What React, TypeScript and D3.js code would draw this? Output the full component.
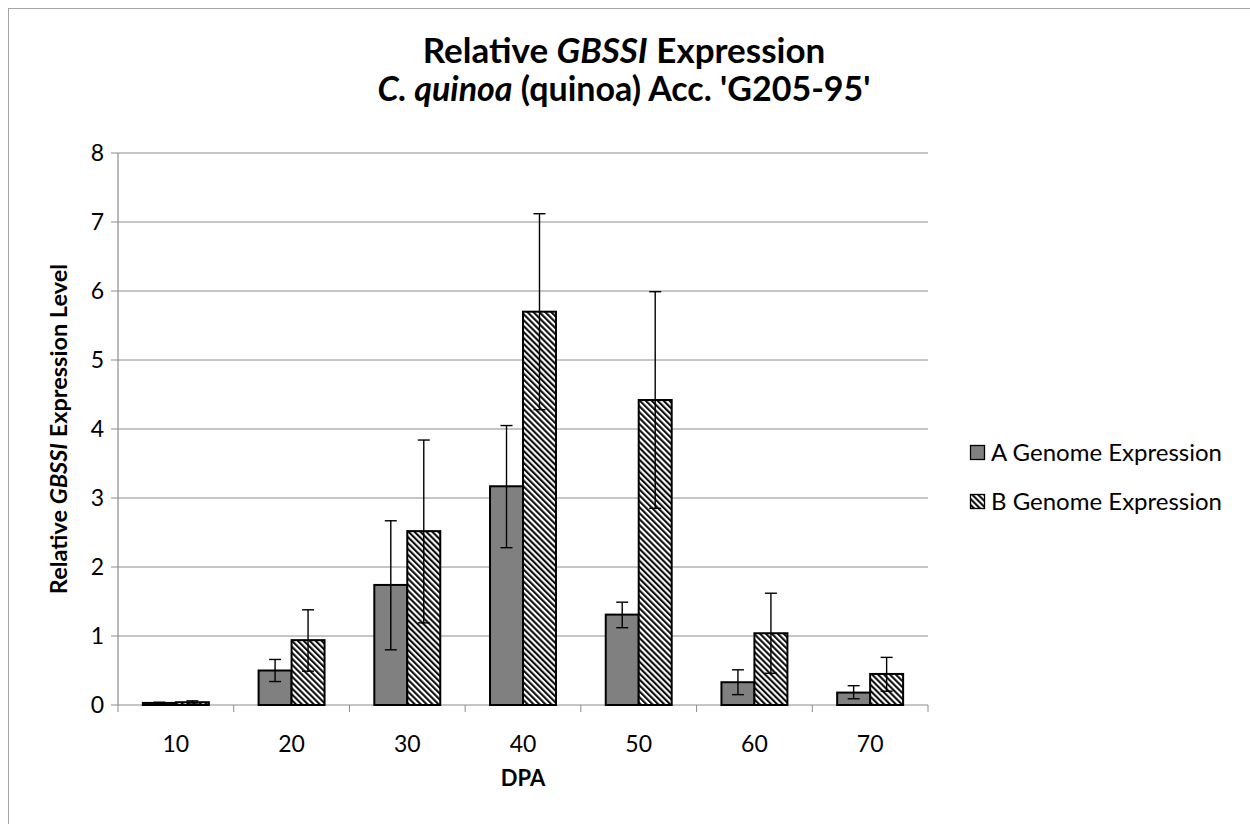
import React from "react";
import * as d3 from "d3";

const categories = ["10", "20", "30", "40", "50", "60", "70"];
const seriesNames = ["A Genome Expression", "B Genome Expression"];
const aValues = [0.03, 0.5, 1.74, 3.17, 1.31, 0.33, 0.18];
const aErrLow = [0.02, 0.34, 0.8, 2.28, 1.12, 0.15, 0.09];
const aErrHigh = [0.04, 0.66, 2.67, 4.05, 1.49, 0.51, 0.28];
const bValues = [0.04, 0.94, 2.52, 5.7, 4.42, 1.04, 0.45];
const bErrLow = [0.03, 0.49, 1.19, 4.28, 2.85, 0.46, 0.2];
const bErrHigh = [0.06, 1.38, 3.84, 7.12, 5.99, 1.62, 0.69];
const yTicks = [0, 1, 2, 3, 4, 5, 6, 7, 8];

const FONT = "Lato, 'Open Sans', sans-serif";

export default function App() {
  const left = 118, right = 928, top = 153, bottom = 705;
  const x = d3.scaleBand<string>().domain(categories).range([left, right]).paddingInner(0.43).paddingOuter(0.215);
  const xs = d3.scaleBand<string>().domain(["A", "B"]).range([0, x.bandwidth()]);
  const y = d3.scaleLinear().domain([0, 8]).range([bottom, top]);
  const step = x.step();
  const series = [
    { key: "A", vals: aValues, lo: aErrLow, hi: aErrHigh, fill: "#808080" },
    { key: "B", vals: bValues, lo: bErrLow, hi: bErrHigh, fill: "url(#hatch)" },
  ];
  const gridColor = "#8c8c8c";
  return (
    <>
      <style>{"html,body{margin:0;overflow:hidden}"}</style>
      <svg width={1250} height={824} style={{ position: "absolute", left: 0, top: 0, background: "#fff" }}>
        <defs>
          <pattern id="hatch" patternUnits="userSpaceOnUse" width="4.2" height="4.2" patternTransform="rotate(-45)">
            <rect width="4.2" height="4.2" fill="#fff" />
            <line x1="1.1" y1="-1" x2="1.1" y2="5.2" stroke="#000" strokeWidth="2" />
          </pattern>
        </defs>
        <rect x={8.5} y={8.5} width={1260} height={830} fill="none" stroke="#a6a6a6" strokeWidth={1} />
        <text x={624} y={63} textAnchor="middle" fontFamily={FONT} fontWeight="bold" fontSize={35}>
          Relative <tspan fontStyle="italic">GBSSI</tspan> Expression
        </text>
        <text x={624} y={101} textAnchor="middle" fontFamily={FONT} fontWeight="bold" fontSize={34}>
          <tspan fontStyle="italic">C. quinoa</tspan> (quinoa) Acc. 'G205-95'
        </text>
        {yTicks.map((t) => (
          <g key={t}>
            {t > 0 && <line x1={left} x2={right} y1={y(t)} y2={y(t)} stroke={gridColor} strokeWidth={1} />}
            <line x1={left - 7} x2={left} y1={y(t)} y2={y(t)} stroke={gridColor} strokeWidth={1} />
            <text x={left - 14} y={y(t) + 8} textAnchor="end" fontFamily={FONT} fontSize={23}>{t}</text>
          </g>
        ))}
        <line x1={left} x2={left} y1={top} y2={bottom} stroke={gridColor} strokeWidth={1.2} />
        <line x1={left} x2={right} y1={bottom} y2={bottom} stroke={gridColor} strokeWidth={1.2} />
        {d3.range(categories.length + 1).map((i) => (
          <line key={i} x1={left + i * step} x2={left + i * step} y1={bottom} y2={bottom + 7} stroke={gridColor} strokeWidth={1} />
        ))}
        {categories.map((c) => (
          <text key={c} x={(x(c) as number) + x.bandwidth() / 2} y={752} textAnchor="middle" fontFamily={FONT} fontSize={23}>{c}</text>
        ))}
        {series.map((s) =>
          categories.map((c, i) => {
            const bx = (x(c) as number) + (xs(s.key) as number);
            const w = xs.bandwidth();
            return (
              <rect key={s.key + c} x={bx} y={y(s.vals[i])} width={w} height={y(0) - y(s.vals[i])} fill={s.fill} stroke="#000" strokeWidth={2} />
            );
          })
        )}
        {series.map((s) =>
          categories.map((c, i) => {
            const cx = (x(c) as number) + (xs(s.key) as number) + xs.bandwidth() / 2;
            return (
              <g key={"e" + s.key + c} stroke="#000" strokeWidth={1.4}>
                <line x1={cx} x2={cx} y1={y(s.hi[i])} y2={y(s.lo[i])} />
                <line x1={cx - 6} x2={cx + 6} y1={y(s.hi[i])} y2={y(s.hi[i])} />
                <line x1={cx - 6} x2={cx + 6} y1={y(s.lo[i])} y2={y(s.lo[i])} />
              </g>
            );
          })
        )}
        <text x={523} y={786} textAnchor="middle" fontFamily={FONT} fontWeight="bold" fontSize={22}>DPA</text>
        <text transform={`translate(67,${(top + bottom) / 2}) rotate(-90)`} textAnchor="middle" fontFamily={FONT} fontWeight="bold" fontSize={23.5}>
          Relative <tspan fontStyle="italic">GBSSI</tspan> Expression Level
        </text>
        {seriesNames.map((n, i) => (
          <g key={n} transform={`translate(970,${445 + i * 49})`}>
            <rect x={0.5} y={0.5} width={14} height={14} fill={series[i].fill} stroke="#000" strokeWidth={1.3} />
            <text x={21} y={16} fontFamily={FONT} fontSize={24}>{n}</text>
          </g>
        ))}
      </svg>
    </>
  );
}
